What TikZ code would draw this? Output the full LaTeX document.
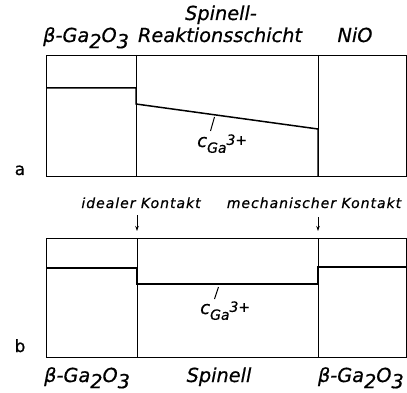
\documentclass[tikz,border=0pt]{standalone}
\usepackage{fontspec}
\setmainfont{DejaVu Sans}
\usetikzlibrary{arrows.meta}
\newcommand{\gaoxide}{β-Ga\raisebox{-0.32em}{2}O\raisebox{-0.32em}{3}}
\newcommand{\cga}{c\raisebox{-0.32em}{\fontsize{14}{16}\selectfont\itshape\addfontfeature{FakeBold=0.6}Ga}\raisebox{0.12em}{\fontsize{14}{16}\selectfont\itshape\addfontfeature{FakeBold=0.6}3+}}
\begin{document}
\begin{tikzpicture}[x=1pt,y=-1pt,
  frame/.style={line width=0.75pt},
  conc/.style={line width=1.5pt},
  tick/.style={line width=1pt},
  lbl/.style={font=\fontsize{19.3}{21}\selectfont\itshape\addfontfeature{FakeBold=0.6}, inner sep=0pt},
  clbl/.style={font=\fontsize{18}{20}\selectfont\itshape\addfontfeature{FakeBold=0.6}, inner sep=0pt},
  small/.style={font=\fontsize{14}{16}\selectfont\itshape\addfontfeature{LetterSpace=7,FakeBold=0.6}, inner sep=0pt},
  panel/.style={font=\fontsize{17}{19}\selectfont\addfontfeature{FakeBold=0.8}, inner sep=0pt},
  arr/.style={->, >={Stealth[length=5pt,width=3.5pt]}, line width=0.75pt}]
\useasboundingbox (0,0) rectangle (407,393);
% ---------- panel a ----------
\coordinate (a1) at (46,55);
\coordinate (a2) at (406,176);
\draw[frame] (a1) rectangle (a2);
\draw[frame] (136,55) -- (136,176);
\draw[frame] (318,55) -- (318,176);
\draw[conc] (46,88) -- (136,88) -- (136,104) -- (318,129) -- (318,176);
\coordinate (ta1) at (214.5,117);
\coordinate (ta2) at (210.5,131);
\draw[tick] (ta1) -- (ta2);
\node[clbl, anchor=base west] (ca) at (197,147) {\cga};
\node[lbl, anchor=base west] (ga1) at (43,42) {\gaoxide};
\node[lbl, anchor=base] (sp1) at (221,20) {Spinell-};
\node[lbl, anchor=base] (rs) at (220,42) {Reaktionsschicht};
\node[lbl, anchor=base] (nio) at (355,42) {NiO};
\node[panel, anchor=base] (la) at (20,175) {a};
% ---------- panel b ----------
\coordinate (b1) at (46,238);
\coordinate (b2) at (406,357);
\draw[frame] (b1) rectangle (b2);
\draw[frame] (137,238) -- (137,357);
\draw[frame] (318,238) -- (318,357);
\draw[conc] (46,268) -- (137,268) -- (137,284) -- (318,284) -- (318,267) -- (406,267);
\coordinate (tb1) at (218.5,287);
\coordinate (tb2) at (214.5,299);
\draw[tick] (tb1) -- (tb2);
\node[clbl, anchor=base west] (cb) at (200,314) {\cga};
\node[small, anchor=base] (ik) at (141,208) {idealer Kontakt};
\node[small, anchor=base] (mk) at (314,208) {mechanischer Kontakt};
\coordinate (ia) at (137,215);
\coordinate (ib) at (137,231);
\coordinate (ma) at (318,217);
\coordinate (mb) at (318,231);
\draw[arr] (ia) -- (ib);
\draw[arr] (ma) -- (mb);
\node[panel, anchor=base] (lb) at (20,352) {b};
\node[lbl, anchor=base west] (ga2) at (44,382) {\gaoxide};
\node[lbl, anchor=base] (spb) at (219,382) {Spinell};
\node[lbl, anchor=base east] (ga3) at (404,382) {\gaoxide};
\end{tikzpicture}
\end{document}
